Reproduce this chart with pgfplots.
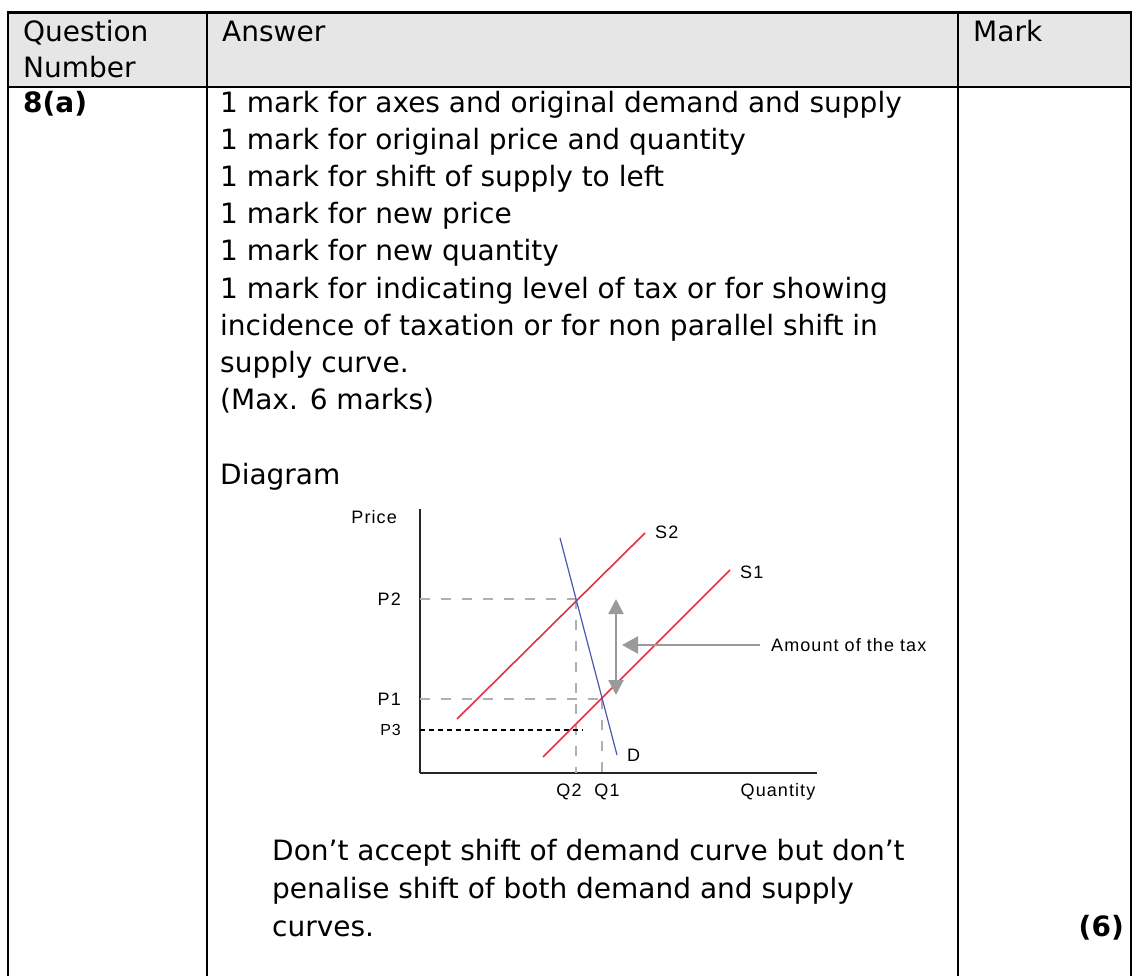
\documentclass[border=0pt]{standalone}
\usepackage{fontspec}
\setmainfont{DejaVu Sans}
\newfontfamily\diagfont[LetterSpace=6]{Liberation Sans}
\usepackage{pgfplots}
\pgfplotsset{compat=1.18}
\usetikzlibrary{arrows.meta}
\definecolor{hdr}{HTML}{E6E6E6}
\definecolor{supred}{HTML}{E0304A}
\definecolor{demblue}{HTML}{4A58B0}
\definecolor{dashgray}{HTML}{B0B0B0}
\definecolor{arrgray}{HTML}{9A9A9A}

\tikzset{
  txt/.style={anchor=base west, inner sep=0pt, font=\fontsize{28}{37}\selectfont},
  lbl/.style={inner sep=0pt, font=\diagfont\fontsize{18}{20}\selectfont}
}

\begin{document}
\begin{tikzpicture}[x=1pt,y=-1pt]
  \path[use as bounding box] (0,0) rectangle (1134,976);
  % table frame
  \fill[hdr] (8,12.5) rectangle (1131,87);
  \draw[line width=2.5pt] (8,976) -- (8,12.5) -- (1131,12.5) -- (1131,976);
  \draw[line width=2.5pt] (8,87) -- (1131,87);
  \draw[line width=2.5pt] (207,12.5) -- (207,976);
  \draw[line width=2.5pt] (958,12.5) -- (958,976);

  % header
  \node[txt] at (23,42) {Question};
  \node[txt] at (23,78) {Number};
  \node[txt] at (222,42) {Answer};
  \node[txt] at (973,42) {Mark};
  % body
  \node[txt, font=\fontsize{28}{37}\selectfont\bfseries] at (23,113) {8(a)};
  \node[txt] at (220,113) {1 mark for axes and original demand and supply};
  \node[txt] at (220,150) {1 mark for original price and quantity};
  \node[txt] at (220,187) {1 mark for shift of supply to left};
  \node[txt] at (220,224) {1 mark for new price};
  \node[txt] at (220,261) {1 mark for new quantity};
  \node[txt] at (220,298) {1 mark for indicating level of tax or for showing};
  \node[txt] at (220,335) {incidence of taxation or for non parallel shift in};
  \node[txt] at (220,372) {supply curve.};
  \node[txt] at (220,409) {(Max. 6 marks)};
  \node[txt] at (220,484) {Diagram};
  \node[txt] at (272,860) {Don’t accept shift of demand curve but don’t};
  \node[txt] at (272,898) {penalise shift of both demand and supply};
  \node[txt] at (272,936) {curves.};
  \node[txt, anchor=base east, font=\fontsize{28}{37}\selectfont\bfseries] at (1124,936) {(6)};

  % supply and demand diagram
  \begin{axis}[
    at={(420pt,-773pt)}, anchor=south west,
    scale only axis,
    width=397pt, height=264pt,
    xmin=0, xmax=397, ymin=0, ymax=264,
    axis x line=bottom, axis y line=left,
    axis line style={-, line width=2pt, black!85},
    xtick=\empty, ytick=\empty,
    clip=false
  ]
    % price and quantity guides
    \addplot[dashgray, line width=2.5pt, dash pattern=on 10pt off 11pt] coordinates {(0,174) (156,174)};
    \addplot[dashgray, line width=2.5pt, dash pattern=on 10pt off 11pt] coordinates {(156,174) (156,0)};
    \addplot[dashgray, line width=2.5pt, dash pattern=on 10pt off 11pt] coordinates {(0,74) (182,74)};
    \addplot[dashgray, line width=2.5pt, dash pattern=on 10pt off 11pt] coordinates {(182,74) (182,0)};
    \addplot[black, line width=1.3pt, dash pattern=on 5pt off 4pt] coordinates {(0,43) (163,43)};
    % curves
    \addplot[supred, line width=1.6pt] coordinates {(37,54) (225,240)};
    \addplot[supred, line width=1.6pt] coordinates {(123,16) (310,203)};
    \addplot[demblue, line width=1.2pt] coordinates {(140,235) (197,18)};
    % tax arrows
    \addplot[arrgray, line width=2.5pt,
      {Triangle[width=15pt,length=15pt]}-{Triangle[width=15pt,length=15pt]}]
      coordinates {(196,174) (196,78)};
    \addplot[arrgray, line width=2.5pt, -{Triangle[width=17pt,length=16pt]}]
      coordinates {(340,128) (202,128)};
    % labels
    \node[lbl, anchor=east] at (axis cs:-23,256) {Price};
    \node[lbl, anchor=east] at (axis cs:-19,174) {P2};
    \node[lbl, anchor=east] at (axis cs:-19,74) {P1};
    \node[lbl, anchor=east, font=\diagfont\fontsize{16}{18}\selectfont] at (axis cs:-19,43) {P3};
    \node[lbl] at (axis cs:149,-19) {Q2};
    \node[lbl] at (axis cs:187,-19) {Q1};
    \node[lbl] at (axis cs:358,-19) {Quantity};
    \node[lbl, anchor=west] at (axis cs:207,18) {D};
    \node[lbl, anchor=west] at (axis cs:235,241) {S2};
    \node[lbl, anchor=west] at (axis cs:320,201) {S1};
    \node[lbl, anchor=west] at (axis cs:351,128) {Amount of the tax};
  \end{axis}
\end{tikzpicture}
\end{document}
